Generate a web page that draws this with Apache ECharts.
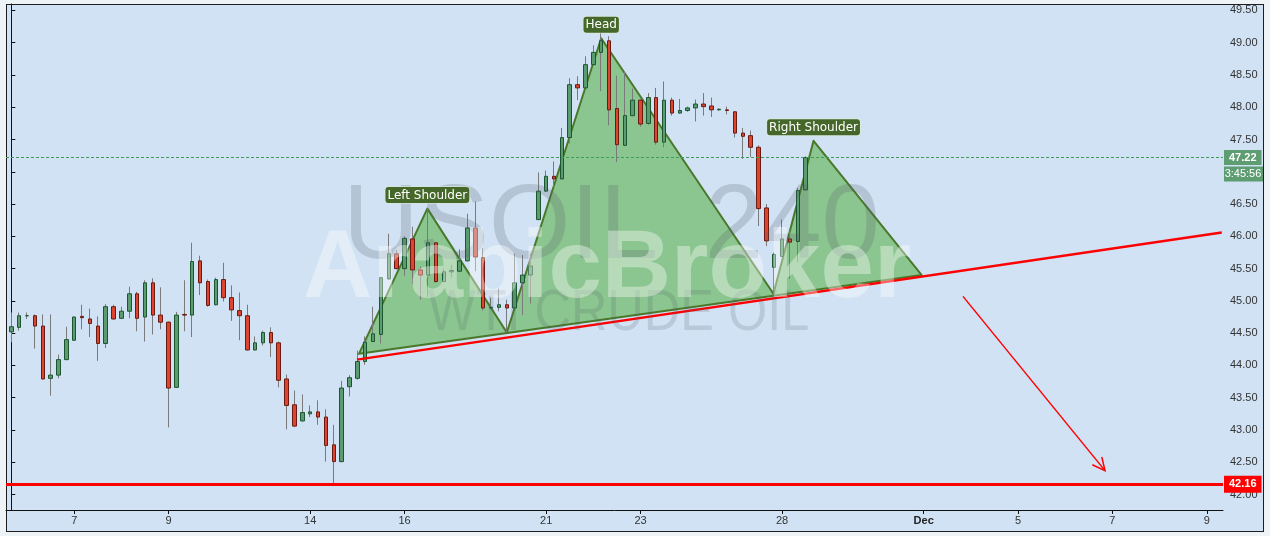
<!DOCTYPE html>
<html><head><meta charset="utf-8">
<script src="https://cdn.jsdelivr.net/npm/echarts@6/dist/echarts.min.js"></script>
<style>
html,body{margin:0;padding:0;background:#eef3f8;}
#frame{position:absolute;left:6px;top:4px;width:1256px;height:526px;background:#d0e2f3;border:1px solid #1e1e1e;}
#chart{position:absolute;left:0;top:0;width:1270px;height:536px;}
</style></head><body>
<div id="frame"></div><div id="chart"></div>
<script>
// ---- candle data (H4 candles, index = bar number) ----
const openP  = [44.52,44.59,44.77,44.77,44.61,43.80,43.85,44.09,44.39,44.76,44.72,44.61,44.34,44.91,44.73,44.84,45.11,44.75,45.28,44.78,
                44.67,43.66,44.79,44.78,45.62,45.30,44.94,45.33,45.05,44.85,44.77,44.24,44.35,44.51,44.35,43.79,43.39,43.14,43.25,43.28,
                43.20,42.77,42.51,43.67,43.80,44.06,44.37,44.48,45.34,45.73,45.50,45.96,45.48,45.40,45.90,45.30,45.45,45.46,45.62,46.13,
                45.67,44.89,44.90,44.94,44.89,45.28,45.40,46.26,46.70,46.93,46.89,47.53,48.35,48.30,48.66,48.85,49.03,47.98,47.41,47.87,
                48.11,47.75,48.15,47.46,48.11,47.91,47.95,47.99,48.05,48.02,47.96,47.96,47.93,47.60,47.56,47.38,46.44,45.52,45.69,45.96,
                45.92,46.72];
const closeP = [44.60,44.77,44.77,44.61,43.79,43.85,44.09,44.40,44.75,44.74,44.65,44.34,44.91,44.72,44.84,45.11,44.73,45.28,44.78,44.67,
                43.65,44.78,44.78,45.61,45.28,44.93,45.33,45.05,44.86,44.77,44.24,44.35,44.51,44.35,43.77,43.38,43.06,43.27,43.28,43.20,
                42.76,42.51,43.65,43.81,44.06,44.36,44.49,45.36,45.73,45.50,45.97,45.48,45.40,45.90,45.30,45.45,45.47,45.62,46.13,45.68,
                44.89,44.90,44.94,44.89,45.28,45.40,45.54,46.70,46.93,46.89,47.53,48.35,48.30,48.66,48.85,49.03,47.96,47.42,47.87,48.11,
                47.74,48.15,47.46,48.11,47.91,47.95,47.99,48.05,48.01,47.96,47.97,47.95,47.60,47.55,47.38,46.43,45.93,45.72,45.96,45.91,
                46.71,47.22];
const lowP   = [44.36,44.54,44.72,44.26,43.78,43.53,43.80,44.08,44.38,44.56,44.44,44.07,44.27,44.71,44.72,44.73,44.53,44.37,44.48,44.56,
                43.04,43.65,44.53,44.44,45.09,44.91,44.93,44.99,44.69,44.39,44.23,44.23,44.31,44.13,43.66,43.01,43.05,43.13,43.20,43.08,
                42.51,42.16,42.50,43.52,43.78,44.01,44.37,44.34,45.33,45.49,45.39,45.26,45.02,45.06,45.28,45.29,45.36,45.45,45.61,45.46,
                44.85,44.88,44.84,44.51,44.88,44.78,44.96,46.25,46.69,46.76,46.88,47.44,48.11,48.29,48.65,48.25,47.72,47.15,47.40,47.86,
                47.70,47.73,47.42,47.38,47.87,47.90,47.93,47.78,47.87,47.85,47.95,47.89,47.53,47.20,47.23,46.16,45.85,45.11,45.68,45.34,
                45.60,46.71];
const highP  = [44.82,44.82,44.82,44.79,44.79,44.79,44.17,44.60,44.76,44.94,44.88,44.76,44.95,44.94,44.91,45.22,45.14,45.32,45.35,45.21,
                44.68,44.83,45.32,45.90,45.70,45.33,45.36,45.59,45.24,45.13,44.94,44.45,44.54,44.59,44.37,43.86,43.61,43.55,43.38,43.46,
                43.32,43.08,43.76,43.85,44.23,44.45,44.91,45.37,46.04,45.79,46.00,46.15,45.53,46.43,45.91,45.50,45.56,45.80,46.35,46.54,
                45.82,45.05,45.19,45.02,45.73,45.71,45.73,46.99,47.02,47.16,47.68,48.45,48.48,48.79,48.96,49.15,49.10,48.49,48.55,48.29,
                48.12,48.22,48.30,48.40,48.15,48.13,48.01,48.12,48.22,48.15,47.98,48.01,47.94,47.68,47.64,47.41,46.50,45.75,46.26,46.09,
                46.75,47.24];

// ---- axis ticks ----
const xTickIdx    = [8, 20, 38, 50, 68, 80, 98, 116, 128, 140, 152];
const xTickLabels = ['7','9','14','16','21','23','28','Dec','5','7','9'];
const yTicks      = [42.0,42.5,43.0,43.5,44.0,44.5,45.0,45.5,46.0,46.5,47.0,47.5,48.0,48.5,49.0,49.5];

// ---- head & shoulders pattern (bar index, price) ----
const patternX = [44.2, 52.9, 63.0, 75.0, 96.9, 102.0, 115.75];
const patternY = [44.18, 46.43, 44.51, 49.07, 45.11, 47.48, 45.40];
const patternNames = ['Left Shoulder', 'Head', 'Right Shoulder'];
const patternPeakIdx = [1, 3, 5];

// ---- drawn lines ----
const necklineX = [43.95, 153.9];
const necklineY = [44.09, 46.06];
const arrowX = [121.0, 139.06];
const arrowY = [45.07, 42.37];
const lastPrice = 47.22;
const supportPrice = 42.16;
const countdown = '3:45:56';

const wickData = openP.map((o, i) => [i, o, closeP[i], lowP[i], highP[i]]);
const bodyData = openP.map((o, i) => [i, o, closeP[i], Math.min(o, closeP[i]), Math.max(o, closeP[i])]);
const labelData = patternPeakIdx.map((k, j) => ({name: patternNames[j], value: [patternX[k], patternY[k]]}));

const chart = echarts.init(document.getElementById('chart'));
const FONT = 'Liberation Sans';
chart.setOption({
  animation: false,
  grid: {left: 6, right: 47, top: 4, bottom: 26, show: false},
  xAxis: {
    type: 'value', min: -0.674, max: 154.06,
    axisLine: {show: true, lineStyle: {color: '#111', width: 1}},
    axisTick: {show: true, customValues: xTickIdx, length: 4, lineStyle: {color: '#111'}},
    axisLabel: {
      customValues: xTickIdx, margin: 5, color: '#333', fontSize: 11, fontFamily: FONT,
      formatter: v => { const t = xTickLabels[xTickIdx.indexOf(Math.round(v))] || ''; return t === 'Dec' ? '{b|Dec}' : t; },
      rich: {b: {fontWeight: 'bold', color: '#222', fontSize: 11, fontFamily: FONT}}
    },
    splitLine: {show: false}
  },
  yAxis: {
    type: 'value', position: 'right', min: 41.76, max: 49.6,
    axisLine: {show: true, lineStyle: {color: '#111', width: 1}},
    axisTick: {show: true, customValues: yTicks, length: 4, lineStyle: {color: '#111'}},
    axisLabel: {customValues: yTicks, margin: 7, color: '#333', fontSize: 11, fontFamily: FONT, formatter: v => v.toFixed(2)},
    splitLine: {show: false}
  },
  series: [
    {
      type: 'custom', z: 1, data: [[0, 45]], silent: true,
      renderItem: (params, api) => {
        const pts = patternX.map((x, k) => api.coord([x, patternY[k]]));
        return {type: 'polygon', shape: {points: pts}, style: {fill: '#8bc58f', stroke: '#4a782b', lineWidth: 2, lineJoin: 'round'}};
      }
    },
    {
      type: 'candlestick', z: 2, barWidth: 1, data: wickData, silent: true,
      itemStyle: {color: '#7a7a7a', color0: '#7a7a7a', borderColor: '#7a7a7a', borderColor0: '#7a7a7a', borderWidth: 1}
    },
    {
      type: 'candlestick', z: 3, barWidth: 4, data: bodyData, silent: true,
      itemStyle: {color: '#5a9c70', color0: '#dc4631', borderColor: '#1c5530', borderColor0: '#6a1a10', borderWidth: 1},
      markLine: {
        silent: true, symbol: ['none', 'none'], animation: false,
        data: [
          {yAxis: lastPrice, lineStyle: {color: '#3f9a55', type: [3, 2], width: 1},
           label: {show: true, position: 'end', distance: 1, formatter: lastPrice.toFixed(2), color: '#fff', backgroundColor: '#5e9c71',
                   padding: [2, 5, 2, 5], fontSize: 11, fontWeight: 'bold', fontFamily: FONT}},
          {yAxis: supportPrice, lineStyle: {color: '#ff0000', type: 'solid', width: 3},
           label: {show: true, position: 'end', distance: 1, formatter: supportPrice.toFixed(2), color: '#fff', backgroundColor: '#ff0000',
                   padding: [3, 5, 3, 5], fontSize: 11, fontWeight: 'bold', fontFamily: FONT}}
        ]
      }
    },
    {
      type: 'line', z: 4, symbol: 'none', silent: true,
      data: necklineX.map((x, k) => [x, necklineY[k]]),
      lineStyle: {color: '#ff0000', width: 2.5}
    },
    {
      type: 'custom', z: 4, data: [[0, 45]], silent: true,
      renderItem: (params, api) => {
        const a = api.coord([arrowX[0], arrowY[0]]), b = api.coord([arrowX[1], arrowY[1]]);
        const ang = Math.atan2(b[1] - a[1], b[0] - a[0]), L = 14, w = 0.45;
        const h1 = [b[0] - L * Math.cos(ang - w), b[1] - L * Math.sin(ang - w)];
        const h2 = [b[0] - L * Math.cos(ang + w), b[1] - L * Math.sin(ang + w)];
        return {type: 'group', children: [
          {type: 'polyline', shape: {points: [a, b]}, style: {stroke: '#ff0000', lineWidth: 1.5, fill: null}},
          {type: 'polyline', shape: {points: [h1, b, h2]}, style: {stroke: '#ff0000', lineWidth: 1.5, fill: null}}
        ]};
      }
    },
    {
      type: 'scatter', z: 20, symbol: 'circle', symbolSize: 1, silent: true,
      itemStyle: {color: 'rgba(0,0,0,0)', opacity: 1},
      data: labelData,
      label: {show: true, position: 'top', distance: 5, formatter: p => p.name, color: '#fff', backgroundColor: '#46672a', opacity: 1,
              borderColor: 'rgba(220,235,210,0.6)', borderWidth: 1, borderRadius: 3, padding: [2, 2, 1, 2],
              fontSize: 12, fontFamily: 'DejaVu Sans', lineHeight: 13}
    }
  ]
});

const yLast = chart.convertToPixel({yAxisIndex: 0}, lastPrice);
chart.setOption({
  graphic: [
    {type: 'text', z: 10, silent: true, x: 343, y: 177, style: {text: 'USOIL', fill: 'rgba(80,92,105,0.22)', font: '105px "Liberation Sans"'}},
    {type: 'text', z: 10, silent: true, x: 880, y: 177, style: {text: '240', fill: 'rgba(80,92,105,0.22)', font: '105px "Liberation Sans"', align: 'right'}},
    {type: 'text', z: 10, silent: true, x: 428, y: 285, scaleX: 0.87, style: {text: 'WTI CRUDE OIL', fill: 'rgba(80,92,105,0.18)', font: '58px "Liberation Sans"'}},
    {type: 'text', z: 11, silent: true, x: 303, y: 223, style: {text: 'ArabicBroker', fill: 'rgba(255,255,255,0.38)', font: 'bold 96px "Liberation Sans"'}},
    {type: 'rect', z: 30, silent: true, shape: {x: 1224, y: yLast + 9, width: 39, height: 15}, style: {fill: '#5e9c71'}},
    {type: 'text', z: 31, silent: true, x: 1243, y: yLast + 16.5, style: {text: countdown, fill: '#fff', font: '11px "Liberation Sans"', align: 'center', verticalAlign: 'middle'}}
  ]
});
</script>
</body></html>
